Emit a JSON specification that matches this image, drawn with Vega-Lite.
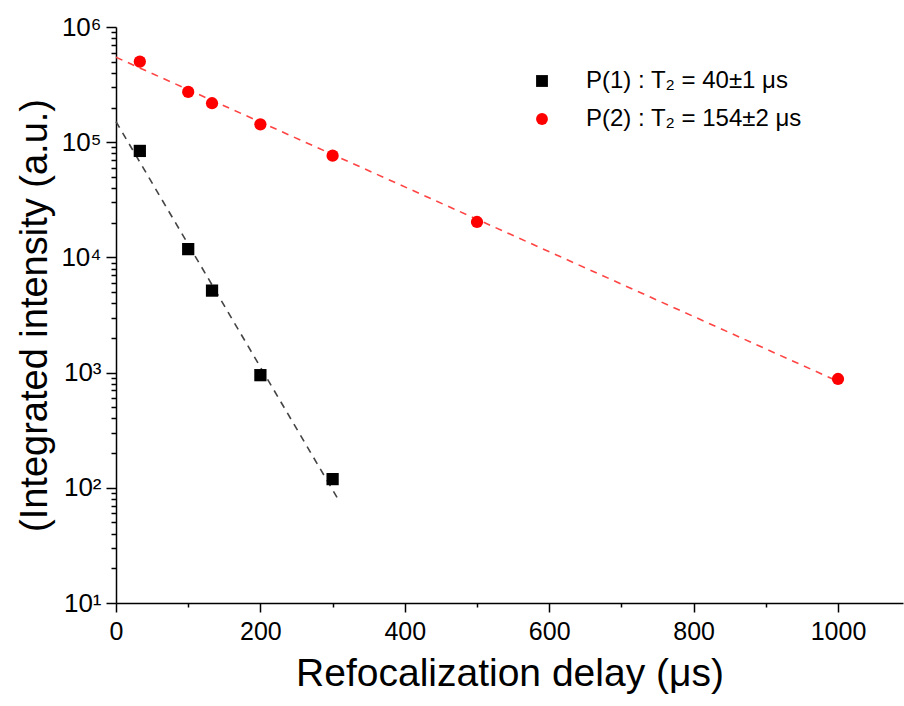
{
  "$schema": "https://vega.github.io/schema/vega-lite/v6.json",
  "width": 787,
  "height": 576,
  "autosize": {"type": "none"},
  "padding": {"left": 116, "top": 27, "right": 1, "bottom": 103},
  "background": "white",
  "config": {
    "view": {"stroke": null},
    "font": "Liberation Sans",
    "axis": {
      "grid": false,
      "domainColor": "#000000",
      "domainWidth": 1.5,
      "tickColor": "#000000",
      "tickWidth": 1.5,
      "labelColor": "#000000",
      "titleColor": "#000000",
      "titleFontWeight": "normal",
      "labelFont": "Liberation Sans",
      "titleFont": "Liberation Sans"
    }
  },
  "datasets": {
    "pts": [
      {"series": "P(1) : T₂ = 40±1 μs", "delay": 33, "intensity": 84000},
      {"series": "P(1) : T₂ = 40±1 μs", "delay": 100, "intensity": 11800},
      {"series": "P(1) : T₂ = 40±1 μs", "delay": 133, "intensity": 5150},
      {"series": "P(1) : T₂ = 40±1 μs", "delay": 200, "intensity": 950},
      {"series": "P(1) : T₂ = 40±1 μs", "delay": 300, "intensity": 119},
      {"series": "P(2) : T₂ = 154±2 μs", "delay": 33, "intensity": 500000},
      {"series": "P(2) : T₂ = 154±2 μs", "delay": 100, "intensity": 273000},
      {"series": "P(2) : T₂ = 154±2 μs", "delay": 133, "intensity": 218000},
      {"series": "P(2) : T₂ = 154±2 μs", "delay": 200, "intensity": 143000},
      {"series": "P(2) : T₂ = 154±2 μs", "delay": 300, "intensity": 76400},
      {"series": "P(2) : T₂ = 154±2 μs", "delay": 500, "intensity": 20300},
      {"series": "P(2) : T₂ = 154±2 μs", "delay": 1000, "intensity": 880}
    ],
    "fit1": [
      {"delay": 0, "intensity": 151000},
      {"delay": 310, "intensity": 75}
    ],
    "fit2": [
      {"delay": 0, "intensity": 546000},
      {"delay": 1000, "intensity": 840}
    ]
  },
  "encoding": {
    "x": {
      "field": "delay",
      "type": "quantitative",
      "scale": {"domain": [0, 1090], "nice": false, "zero": false},
      "axis": {
        "title": "Refocalization delay (μs)",
        "titleFontSize": 39,
        "titlePadding": 10,
        "values": [0, 100, 200, 300, 400, 500, 600, 700, 800, 900, 1000],
        "format": "d",
        "labelExpr": "datum.value % 200 == 0 ? datum.label : ''",
        "tickSize": {"condition": {"test": "datum.value % 200 == 0", "value": 9}, "value": 4},
        "labelFontSize": 25,
        "labelPadding": 7,
        "labelFlush": false
      }
    },
    "y": {
      "field": "intensity",
      "type": "quantitative",
      "scale": {"type": "log", "domain": [10, 1000000], "nice": false},
      "axis": {
        "title": "(Integrated intensity (a.u.)",
        "titleFontSize": 38,
        "titlePadding": 6,
        "values": [10, 20, 30, 40, 50, 60, 70, 80, 90, 100, 200, 300, 400, 500, 600, 700, 800, 900, 1000, 2000, 3000, 4000, 5000, 6000, 7000, 8000, 9000, 10000, 20000, 30000, 40000, 50000, 60000, 70000, 80000, 90000, 100000, 200000, 300000, 400000, 500000, 600000, 700000, 800000, 900000, 1000000],
        "labelExpr": "abs(log(datum.value)/LN10 - round(log(datum.value)/LN10)) < 0.001 ? '10' + ['⁰','¹','²','³','⁴','⁵','⁶'][round(log(datum.value)/LN10)] : ''",
        "tickSize": {"condition": {"test": "abs(log(datum.value)/LN10 - round(log(datum.value)/LN10)) < 0.001", "value": 10}, "value": 5},
        "labelFontSize": 26,
        "labelPadding": 5,
        "labelFlush": false
      }
    }
  },
  "layer": [
    {
      "data": {"name": "fit1"},
      "mark": {"type": "line", "color": "#444444", "strokeWidth": 1.6, "strokeDash": [7, 6]}
    },
    {
      "data": {"name": "fit2"},
      "mark": {"type": "line", "color": "#ff4444", "strokeWidth": 1.6, "strokeDash": [7, 6]}
    },
    {
      "data": {"name": "pts"},
      "mark": {"type": "point", "filled": true, "opacity": 1, "size": 150},
      "encoding": {
        "color": {
          "field": "series",
          "type": "nominal",
          "scale": {"domain": ["P(1) : T₂ = 40±1 μs", "P(2) : T₂ = 154±2 μs"], "range": ["#000000", "#ff0000"]},
          "legend": {
            "title": null,
            "orient": "none",
            "legendX": 414,
            "legendY": 42,
            "labelFontSize": 24,
            "labelColor": "#000000",
            "labelFont": "Liberation Sans",
            "labelOffset": 32,
            "labelLimit": 500,
            "rowPadding": 14,
            "symbolSize": 140,
            "symbolOpacity": 1
          }
        },
        "shape": {
          "field": "series",
          "type": "nominal",
          "scale": {"domain": ["P(1) : T₂ = 40±1 μs", "P(2) : T₂ = 154±2 μs"], "range": ["square", "circle"]},
          "legend": null
        }
      }
    }
  ]
}
